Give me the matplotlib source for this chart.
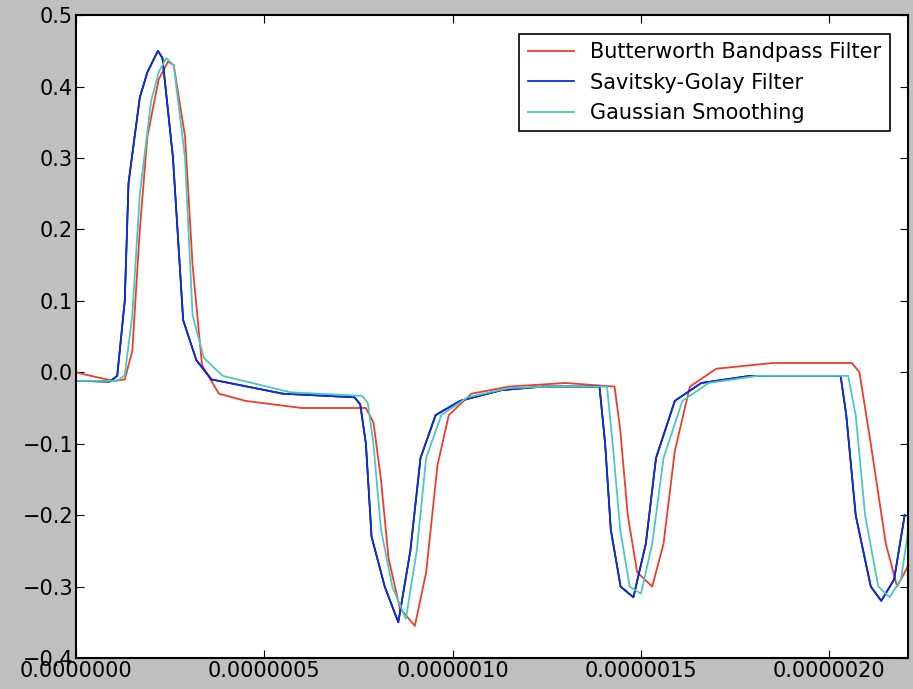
import matplotlib
matplotlib.use('Agg')
import matplotlib.pyplot as plt
from matplotlib.ticker import FormatStrFormatter, FuncFormatter

# time in microseconds
sg_t = [0.0, 0.09, 0.11, 0.13, 0.14, 0.17, 0.19, 0.218, 0.23, 0.258, 0.285, 0.32, 0.36,
        0.55, 0.74, 0.755, 0.77, 0.785, 0.82, 0.856, 0.888, 0.915, 0.955, 1.02, 1.13, 1.24,
        1.39, 1.405, 1.42, 1.446, 1.48, 1.513, 1.54, 1.59, 1.66, 1.79, 2.03, 2.045, 2.07,
        2.11, 2.138, 2.172, 2.2]
sg_y = [-0.012, -0.013, -0.005, 0.1, 0.265, 0.385, 0.42, 0.45, 0.44, 0.30, 0.073, 0.017,
        -0.01, -0.03, -0.035, -0.045, -0.1, -0.23, -0.30, -0.35, -0.25, -0.12, -0.06, -0.04,
        -0.025, -0.02, -0.02, -0.1, -0.22, -0.30, -0.315, -0.24, -0.12, -0.04, -0.015, -0.005,
        -0.005, -0.06, -0.2, -0.3, -0.32, -0.29, -0.2]

gs_t = [0.0, 0.11, 0.13, 0.15, 0.17, 0.2, 0.22, 0.24, 0.26, 0.29, 0.31, 0.34, 0.39,
        0.57, 0.76, 0.775, 0.79, 0.81, 0.84, 0.876, 0.905, 0.93, 0.97, 1.04, 1.15, 1.26,
        1.41, 1.425, 1.445, 1.47, 1.5, 1.53, 1.56, 1.61, 1.68, 1.81, 2.05, 2.07, 2.095,
        2.13, 2.16, 2.19, 2.21]
gs_y = [-0.012, -0.012, -0.004, 0.08, 0.25, 0.38, 0.42, 0.44, 0.43, 0.30, 0.08, 0.02,
        -0.005, -0.028, -0.033, -0.043, -0.1, -0.22, -0.30, -0.345, -0.25, -0.12, -0.06,
        -0.035, -0.022, -0.02, -0.02, -0.1, -0.22, -0.30, -0.31, -0.24, -0.12, -0.04, -0.015,
        -0.005, -0.005, -0.06, -0.2, -0.3, -0.315, -0.29, -0.22]

bw_t = [0.0, 0.04, 0.1, 0.13, 0.15, 0.17, 0.19, 0.22, 0.245, 0.26, 0.29, 0.31, 0.335,
        0.38, 0.45, 0.6, 0.77, 0.79, 0.81, 0.83, 0.86, 0.9, 0.93, 0.96, 0.99, 1.05, 1.15,
        1.3, 1.43, 1.445, 1.465, 1.49, 1.53, 1.56, 1.59, 1.63, 1.7, 1.85, 2.06, 2.08,
        2.11, 2.15, 2.18, 2.21]
bw_y = [0.0, -0.005, -0.012, -0.01, 0.03, 0.2, 0.33, 0.41, 0.435, 0.43, 0.33, 0.15, 0.01,
        -0.03, -0.04, -0.05, -0.05, -0.07, -0.15, -0.26, -0.33, -0.355, -0.28, -0.13,
        -0.06, -0.03, -0.02, -0.015, -0.02, -0.08, -0.2, -0.28, -0.30, -0.24, -0.11, -0.02,
        0.005, 0.013, 0.013, 0.0, -0.1, -0.24, -0.30, -0.27]

labels = ['Butterworth Bandpass Filter', 'Savitsky-Golay Filter', 'Gaussian Smoothing']
colors = ['#f03c28', '#0a2ee0', '#4cc8c0']

fig = plt.figure(figsize=(9.13, 6.89), dpi=100, facecolor='#bfbfbf')
ax = fig.add_axes([0.083, 0.045, 0.912, 0.933])

ax.plot([t * 1e-6 for t in bw_t], bw_y, color=colors[0], lw=1.3, label=labels[0])
ax.plot([t * 1e-6 for t in sg_t], sg_y, color='black', lw=1.2)
ax.plot([t * 1e-6 for t in sg_t], sg_y, color=colors[1], lw=1.3, label=labels[1])
ax.plot([t * 1e-6 for t in gs_t], gs_y, color=colors[2], lw=1.3, label=labels[2])

ax.set_xlim(0, 2.21e-6)
ax.set_ylim(-0.4, 0.5)
ax.set_xticks([0, 5e-7, 1e-6, 1.5e-6, 2e-6])
ax.set_yticks([-0.4, -0.3, -0.2, -0.1, 0.0, 0.1, 0.2, 0.3, 0.4, 0.5])
ax.xaxis.set_major_formatter(FormatStrFormatter('%.7f'))
ax.yaxis.set_major_formatter(FuncFormatter(lambda v, p: ('%.1f' % v).replace('-', '\u2212')))
ax.tick_params(direction='in', labelsize=15, length=6, top=True, right=True, pad=2)
for s in ax.spines.values():
    s.set_linewidth(1.5)

leg = ax.legend(loc='upper right', fontsize=15, fancybox=False, edgecolor='black',
                framealpha=1, handlelength=2.2, borderaxespad=0.9)
leg.get_frame().set_linewidth(1.2)

fig.savefig('out.png', dpi=100, facecolor=fig.get_facecolor())
